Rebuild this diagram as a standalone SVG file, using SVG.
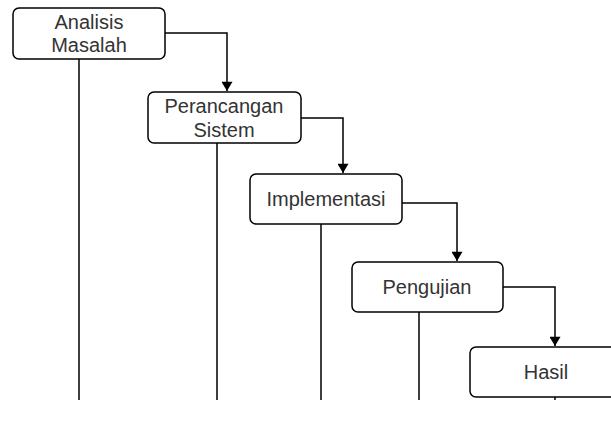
<svg xmlns="http://www.w3.org/2000/svg" width="611" height="430" viewBox="0 0 611 430">
<defs>
<style>
.box{fill:#fff;stroke:#000;stroke-width:1.5}
.lbl{font-family:"Liberation Sans",Arial,sans-serif;font-size:20px;fill:#333;text-anchor:middle}
.ln{fill:none;stroke:#000;stroke-width:1.5}
</style>
<marker id="ah" viewBox="0 0 10 12" refX="10" refY="6" markerWidth="12" markerHeight="11" markerUnits="userSpaceOnUse" orient="auto">
<path d="M0,0 L10,6 L0,12 Z" fill="#000"/>
</marker>
</defs>
<rect width="611" height="430" fill="#fff"/>
<g id="connectors">
<path class="ln" d="M79,59 V400"/>
<path class="ln" d="M217,143 V400"/>
<path class="ln" d="M321,224 V400"/>
<path class="ln" d="M419,312 V400"/>
<path class="ln" d="M555,397 V400"/>
<path class="ln" d="M165,33 H227 V91" marker-end="url(#ah)"/>
<path class="ln" d="M301,118 H343 V173" marker-end="url(#ah)"/>
<path class="ln" d="M402,203 H457 V261" marker-end="url(#ah)"/>
<path class="ln" d="M503,287 H555 V346" marker-end="url(#ah)"/>
</g>
<g id="analisis">
<rect class="box" x="13" y="8" width="152" height="51" rx="6"/>
<text class="lbl" x="89" y="29">Analisis</text>
<text class="lbl" x="89" y="52">Masalah</text>
</g>
<g id="perancangan">
<rect class="box" x="148" y="92" width="153" height="51" rx="6"/>
<text class="lbl" x="224" y="113">Perancangan</text>
<text class="lbl" x="224" y="137">Sistem</text>
</g>
<g id="implementasi">
<rect class="box" x="250" y="174" width="152" height="50" rx="6"/>
<text class="lbl" x="326" y="206">Implementasi</text>
</g>
<g id="pengujian">
<rect class="box" x="352" y="262" width="151" height="50" rx="6"/>
<text class="lbl" x="427" y="294">Pengujian</text>
</g>
<g id="hasil">
<rect class="box" x="470" y="347" width="152" height="50" rx="6"/>
<text class="lbl" x="546" y="379">Hasil</text>
</g>
</svg>
